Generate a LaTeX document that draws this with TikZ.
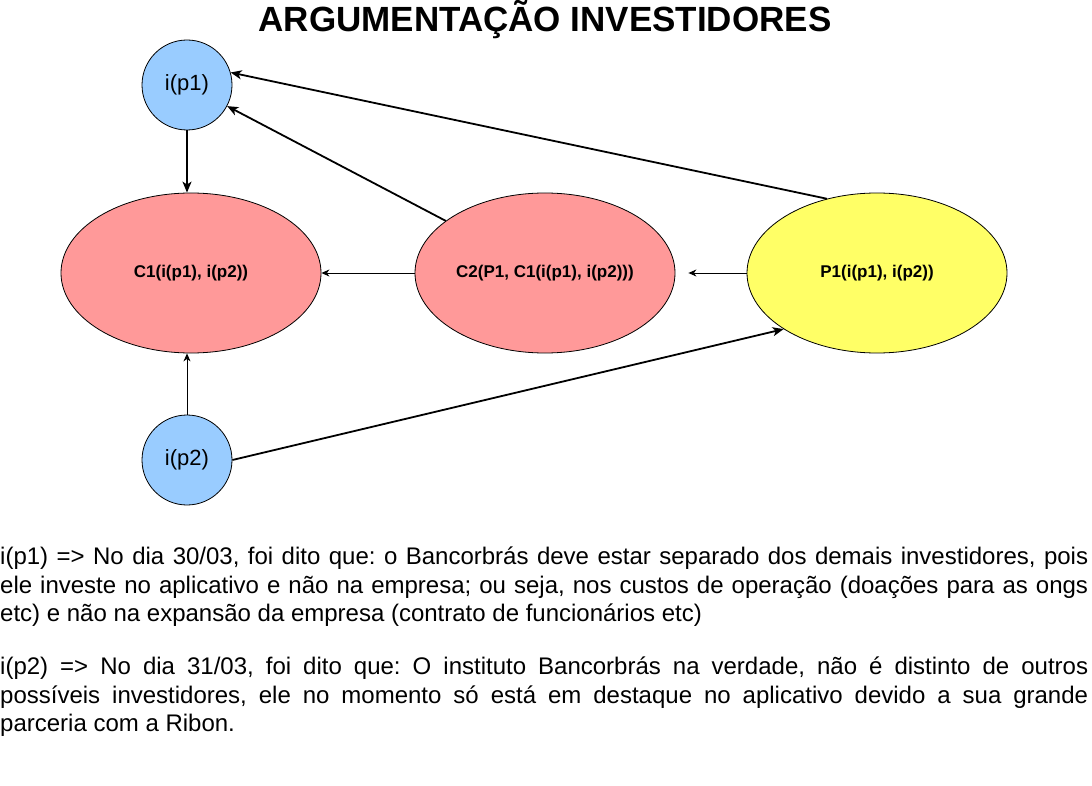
\documentclass[tikz,border=0pt]{standalone}
\usepackage{fontspec}
\setmainfont{Liberation Sans}
\usetikzlibrary{arrows.meta,shapes.geometric}

\definecolor{premblue}{HTML}{99CCFF}
\definecolor{argred}{HTML}{FF9999}
\definecolor{argyellow}{HTML}{FFFF66}

\begin{document}
\frenchspacing
\begin{tikzpicture}[x=1pt,y=-1pt,
  prem/.style={ellipse,draw,line width=0.8pt,fill=premblue,minimum width=90pt,minimum height=90pt,inner sep=0pt,font=\fontsize{22}{26}\selectfont},
  arg/.style={ellipse,draw,line width=0.8pt,minimum width=260pt,minimum height=160pt,inner sep=0pt,font=\fontsize{17}{20}\selectfont\bfseries},
  thick arrow/.style={line width=1.8pt,-{Stealth[length=11pt,width=9pt,inset=3pt]}},
  thin arrow/.style={line width=0.9pt,-{Stealth[length=8pt,width=7pt,inset=2.5pt]}},
  note/.style={anchor=base west,inner sep=0pt,text width=1088pt,align=justify,font=\fontsize{24}{28.5}\selectfont}]
\useasboundingbox (0,0) rectangle (1092,786);

\node[font=\fontsize{35}{40}\selectfont\bfseries] (title) at (545,20) {ARGUMENTAÇÃO INVESTIDORES};

\node[prem] (ip1) at (187,85) {i(p1)};
\node[prem] (ip2) at (187,460) {i(p2)};
\node[arg,fill=argred] (c1) at (191,273) {C1(i(p1), i(p2))};
\node[arg,fill=argred] (c2) at (545,273) {C2(P1, C1(i(p1), i(p2)))};
\node[arg,fill=argyellow] (p1) at (877,273) {P1(i(p1), i(p2))};
\coordinate (c2gap) at ([xshift=13pt]c2.east);

\draw[thick arrow] (ip1.south) -- (ip1.south |- c1.north);
\draw[thick arrow] (c2) -- (ip1);
\draw[thick arrow] (p1.124) -- (ip1.16);
\draw[thick arrow] (ip2.east) -- (p1.211);
\draw[thin arrow] (c2.west) -- (c1.east);
\draw[thin arrow] (p1.west) -- (c2gap);
\draw[thin arrow] (ip2.north) -- (ip2.north |- c1.south);

\node[note] (note1) at (0,564.5) {i(p1) => No dia 30/03, foi dito que: o Bancorbrás deve estar separado dos demais investidores, pois\linebreak ele investe no aplicativo e não na empresa; ou seja, nos custos de operação (doações para as ongs\linebreak etc) e não na expansão da empresa (contrato de funcionários etc)};
\node[note] (note2) at (0,674.5) {i(p2) => No dia 31/03, foi dito que: O instituto Bancorbrás na verdade, não é distinto de outros\linebreak possíveis investidores, ele no momento só está em destaque no aplicativo devido a sua grande\linebreak parceria com a Ribon.};

\end{tikzpicture}
\end{document}
